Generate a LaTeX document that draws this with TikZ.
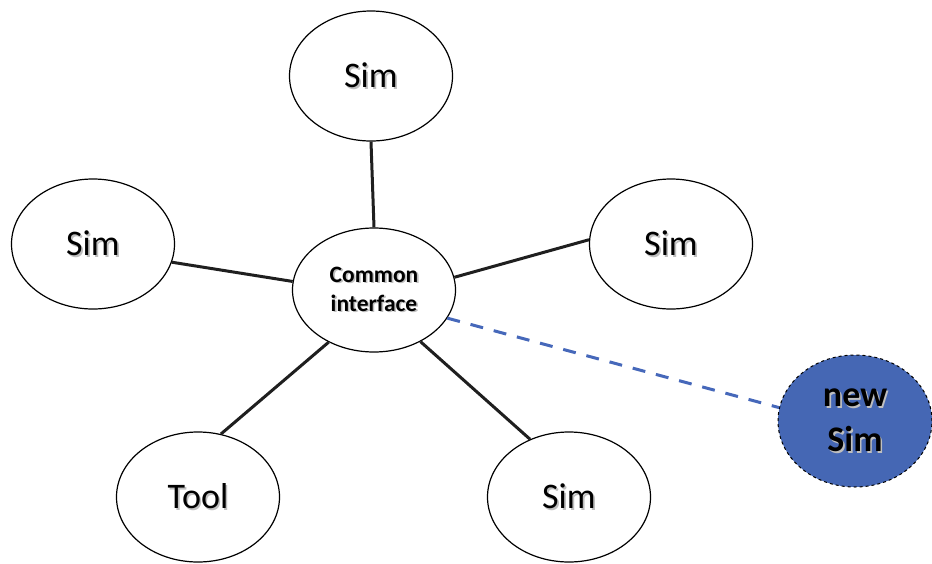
\documentclass[tikz,border=0pt]{standalone}
\usepackage{fontspec}
\setmainfont{Carlito}
\usetikzlibrary{shapes.geometric}
\definecolor{newblue}{RGB}{69,103,180}
\definecolor{dashblue}{RGB}{70,104,186}
\newcommand\shtxt[1]{\leavevmode\rlap{\kern1.6pt\raisebox{-1.6pt}{\color{black!25}#1}}#1}
\tikzset{
  simnode/.style={ellipse, draw=black, line width=1.2pt, fill=white, inner sep=0pt,
    minimum width=163pt, minimum height=130pt, font=\fontsize{36}{40}\selectfont},
  hubnode/.style={simnode, minimum height=124pt, font=\bfseries\fontsize{23.5}{29}\selectfont, align=center},
  newnode/.style={ellipse, draw=black, dashed, line width=1pt, fill=newblue, inner sep=0pt,
    minimum width=154pt, minimum height=132pt, align=center,
    font=\bfseries\fontsize{36}{45}\selectfont},
  link/.style={line width=3pt, draw=black!88},
  newlink/.style={line width=3pt, draw=dashblue, dash pattern=on 13pt off 11pt}
}
\begin{document}
\begin{tikzpicture}[x=1pt,y=-1pt]
\useasboundingbox (0,0) rectangle (932,563);
\node[simnode] (top) at (371,76) {\shtxt{Sim}};
\node[simnode] (left) at (93,244) {\shtxt{Sim}};
\node[simnode] (right) at (671,244) {\shtxt{Sim}};
\node[hubnode] (hub) at (374,290) {\shtxt{Common}\\\shtxt{interface}};
\node[simnode] (tool) at (198,497) {\shtxt{Tool}};
\node[simnode] (bot) at (569,497) {\shtxt{Sim}};
\node[newnode] (new) at (855,421) {\shtxt{new}\\\shtxt{Sim}};
\draw[link] (top.south) -- (hub.north);
\draw[link] (left.-13) -- (hub.174);
\draw[link] (hub.9) -- (right.177);
\draw[link] (hub.229) -- (tool.70);
\draw[link] (hub.-48) -- (bot.124);
\draw[newlink] (hub.-21) -- (new.170);
\end{tikzpicture}
\end{document}
